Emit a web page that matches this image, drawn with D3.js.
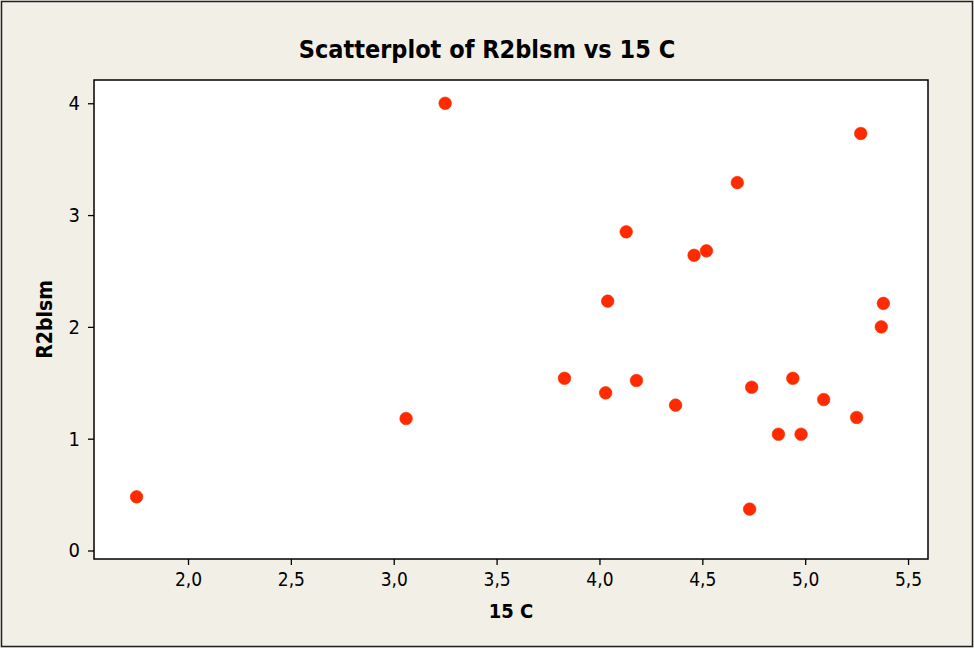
<!DOCTYPE html>
<html>
<head>
<meta charset="utf-8">
<script src="https://cdn.jsdelivr.net/npm/d3@7"></script>
<style>
  html, body { margin: 0; padding: 0; background: #f2efe7; }
  svg { display: block; }
  text { font-family: "DejaVu Sans Condensed", "DejaVu Sans", sans-serif; fill: #000; }
</style>
</head>
<body>
<svg id="chart" width="974" height="648"></svg>
<script>
const title = "Scatterplot of R2blsm vs 15 C";
const xLabel = "15 C";
const yLabel = "R2blsm";
const xValues = [1.75, 3.06, 3.25, 3.83, 4.03, 4.04, 4.13, 4.18, 4.37, 4.46, 4.52,
                 4.67, 4.73, 4.74, 4.87, 4.94, 4.98, 5.09, 5.25, 5.27, 5.37, 5.38];
const yValues = [0.48, 1.18, 4.00, 1.54, 1.41, 2.23, 2.85, 1.52, 1.30, 2.64, 2.68,
                 3.29, 0.37, 1.46, 1.04, 1.54, 1.04, 1.35, 1.19, 3.73, 2.00, 2.21];
const xTicks = [2.0, 2.5, 3.0, 3.5, 4.0, 4.5, 5.0, 5.5];
const yTicks = [0, 1, 2, 3, 4];

const svg = d3.select("#chart");
const W = 974, H = 648;
const plot = { left: 94, right: 928, top: 80, bottom: 559 };

svg.append("rect")
  .attr("x", 1.5).attr("y", 1.5).attr("width", W - 3).attr("height", H - 3)
  .attr("fill", "#f2efe7").attr("stroke", "#222").attr("stroke-width", 1.5);

const x = d3.scaleLinear().domain([1.543, 5.597]).range([plot.left, plot.right]);
const y = d3.scaleLinear().domain([-0.076, 4.208]).range([plot.bottom, plot.top]);

svg.append("rect")
  .attr("x", plot.left).attr("y", plot.top)
  .attr("width", plot.right - plot.left).attr("height", plot.bottom - plot.top)
  .attr("fill", "#ffffff").attr("stroke", "#000").attr("stroke-width", 1.5);

const fmt = d => d3.format(".1f")(d).replace(".", ",");

const xAxis = svg.append("g")
  .attr("transform", `translate(0,${plot.bottom})`)
  .call(d3.axisBottom(x).tickValues(xTicks).tickFormat(fmt).tickSize(6).tickPadding(8));
xAxis.select(".domain").remove();
xAxis.selectAll("line").attr("stroke", "#000").attr("stroke-width", 1.3);
xAxis.selectAll("text").style("font-size", "19px")
  .style("font-family", '"DejaVu Sans Condensed", "DejaVu Sans", sans-serif');

const yAxis = svg.append("g")
  .attr("transform", `translate(${plot.left},0)`)
  .call(d3.axisLeft(y).tickValues(yTicks).tickFormat(d3.format("d")).tickSize(6).tickPadding(8));
yAxis.select(".domain").remove();
yAxis.selectAll("line").attr("stroke", "#000").attr("stroke-width", 1.3);
yAxis.selectAll("text").style("font-size", "20px")
  .style("font-family", '"DejaVu Sans Condensed", "DejaVu Sans", sans-serif');

svg.append("text")
  .attr("x", W / 2).attr("y", 58)
  .attr("text-anchor", "middle")
  .style("font-size", "25px").style("font-weight", "bold")
  .text(title);

svg.append("text")
  .attr("x", (plot.left + plot.right) / 2).attr("y", 618)
  .attr("text-anchor", "middle")
  .style("font-size", "20px").style("font-weight", "bold")
  .text(xLabel);

svg.append("text")
  .attr("transform", `translate(52,${(plot.top + plot.bottom) / 2}) rotate(-90)`)
  .attr("text-anchor", "middle")
  .style("font-size", "21px").style("font-weight", "bold")
  .text(yLabel);

const pts = xValues.map((v, i) => ({ x: v, y: yValues[i] }));
svg.append("g").selectAll("circle").data(pts).join("circle")
  .attr("cx", d => x(d.x)).attr("cy", d => y(d.y))
  .attr("r", 6.3)
  .attr("fill", "#ff2a00")
  .attr("stroke", "#f23200").attr("stroke-width", 0.6);
</script>
</body>
</html>
